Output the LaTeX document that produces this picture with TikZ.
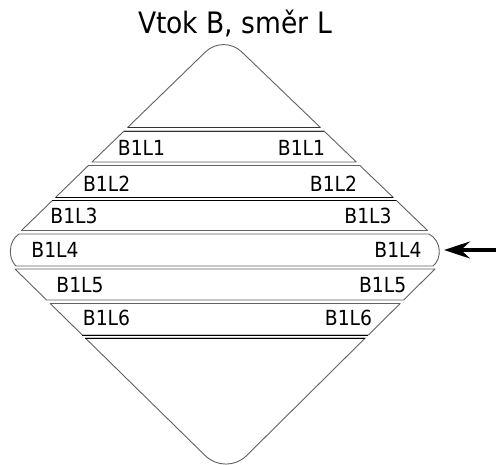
\documentclass[tikz,border=0pt]{standalone}
\usepackage{fontspec}
\setmainfont{DejaVu Sans}[FakeStretch=0.9]
\usetikzlibrary{calc,arrows.meta}
\begin{document}
\begin{tikzpicture}[x=1pt,y=-1pt,
  edge/.style={draw=black!62,line width=0.9pt,line join=round},
  darkline/.style={draw=black,line width=0.95pt},
  lbl/.style={inner sep=0pt,anchor=base,font=\fontsize{20.8}{24}\selectfont},
  ttl/.style={inner sep=0pt,anchor=base,font=\fontsize{29.5}{34}\selectfont}]
\fill[white] (0,0) rectangle (496,464);
\useasboundingbox (0,0) rectangle (496,464);
% title
\node[ttl] (title) at (235,33) {Vtok B, směr L};
% top triangle
\coordinate (T) at (223.5,34.4);
\coordinate (t1) at (127.6,127.5);
\coordinate (t2) at (320.4,127.5);
\coordinate (ta) at ($(T)!25pt!(t1)$);
\coordinate (tb) at ($(T)!25pt!(t2)$);
\draw[edge] (t1) -- (ta) .. controls ($(ta)!0.552!(T)$) and ($(tb)!0.552!(T)$) .. (tb) -- (t2) -- cycle;
% band 1
\coordinate (b1a) at (124.0,131); \coordinate (b1b) at (324.0,131);
\coordinate (b1c) at (356.3,162); \coordinate (b1d) at (92.0,162);
\draw[edge] (b1a) -- (b1b) -- (b1c) -- (b1d) -- cycle;
% band 2
\coordinate (b2a) at (88.4,165.5); \coordinate (b2b) at (359.9,165.5);
\coordinate (b2c) at (393.3,197.5); \coordinate (b2d) at (55.5,197.5);
\draw[edge] (b2a) -- (b2b) -- (b2c) -- (b2d) -- cycle;
% band 3
\coordinate (b3a) at (52.4,200.5); \coordinate (b3b) at (396.4,200.5);
\coordinate (b3c) at (427.6,230.5); \coordinate (b3d) at (21.5,230.5);
\draw[edge] (b3a) -- (b3b) -- (b3c) -- (b3d) -- cycle;
% band 4 (rounded sides)
\coordinate (b4a) at (19,234); \coordinate (b4b) at (429,234);
\coordinate (b4c) at (433,266); \coordinate (b4d) at (16,266);
\draw[edge] (b4a) -- (b4b) .. controls (442,241) and (442,259) .. (b4c) -- (b4d) .. controls (8,259) and (8,241) .. (b4a) -- cycle;
% band 5
\coordinate (b5a) at (15,269); \coordinate (b5b) at (435,269);
\coordinate (b5c) at (403.7,300); \coordinate (b5d) at (46.6,300);
\draw[edge] (b5a) -- (b5b) -- (b5c) -- (b5d) -- cycle;
% band 6
\coordinate (b6a) at (50.2,303.5); \coordinate (b6b) at (400.2,303.5);
\coordinate (b6c) at (368.4,335); \coordinate (b6d) at (82.3,335);
\draw[edge] (b6a) -- (b6b) -- (b6c) -- (b6d) -- cycle;
% bottom triangle
\coordinate (B) at (226,476);
\coordinate (u1) at (85.3,338);
\coordinate (u2) at (365.3,338);
\coordinate (ua) at ($(B)!29pt!(u1)$);
\coordinate (ub) at ($(B)!29pt!(u2)$);
\draw[edge] (u1) -- (ua) .. controls ($(ua)!0.552!(B)$) and ($(ub)!0.552!(B)$) .. (ub) -- (u2) -- cycle;
% darker horizontal edges
\draw[darkline] (b2d) -- (b2c);
\draw[darkline] (b3a) -- (b3b);
\draw[darkline] (b6d) -- (b6c);
\draw[darkline] (u1) -- (u2);
\draw[darkline,draw=black!80] (t1) -- (t2);
\draw[darkline,draw=black!80] (b1a) -- (b1b);
% labels
\node[lbl] (l1a) at (141.5,155) {B1L1};
\node[lbl] (l1b) at (301.5,155) {B1L1};
\node[lbl] (l2a) at (106.7,191.7) {B1L2};
\node[lbl] (l2b) at (333.5,191.7) {B1L2};
\node[lbl] (l3a) at (74,223) {B1L3};
\node[lbl] (l3b) at (368,223) {B1L3};
\node[lbl] (l4a) at (55,257) {B1L4};
\node[lbl] (l4b) at (398,257) {B1L4};
\node[lbl] (l5a) at (80,292) {B1L5};
\node[lbl] (l5b) at (382.7,292) {B1L5};
\node[lbl] (l6a) at (106.5,325) {B1L6};
\node[lbl] (l6b) at (348.5,325) {B1L6};
% arrow
\coordinate (arrS) at (497,250);
\coordinate (arrT) at (444,250);
\draw[line width=3.2pt,-{Stealth[length=26pt,width=17pt,inset=9pt]}] (arrS) -- (arrT);
\end{tikzpicture}
\end{document}
